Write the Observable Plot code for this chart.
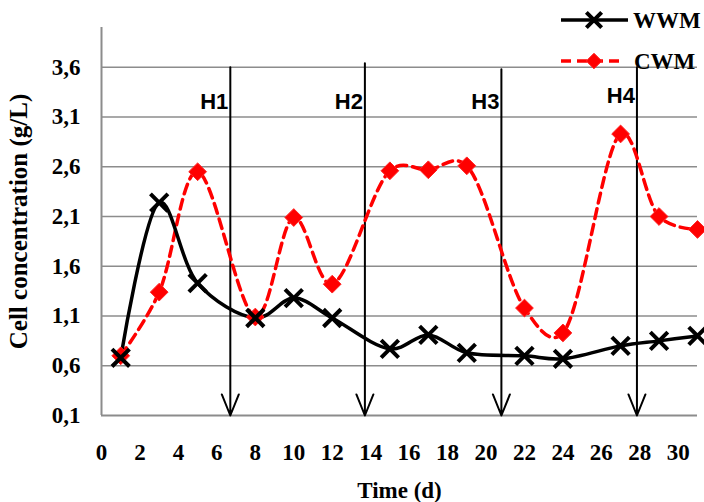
<!DOCTYPE html>
<html>
<head>
<meta charset="utf-8">
<script src="https://cdn.jsdelivr.net/npm/d3@7"></script>
<script src="https://cdn.jsdelivr.net/npm/@observablehq/plot@0.6"></script>
<style>
  html, body { margin: 0; padding: 0; background: #fff; }
</style>
</head>
<body>
<div id="chart"></div>
<script>
// ---- data ----
const days = [1, 3, 5, 8, 10, 12, 15, 17, 19, 22, 24, 27, 29, 31];
const wwm  = [0.68, 2.24, 1.43, 1.08, 1.28, 1.08, 0.77, 0.91, 0.73, 0.70, 0.67, 0.80, 0.85, 0.90];
const cwm  = [0.70, 1.34, 2.55, 1.09, 2.09, 1.42, 2.56, 2.57, 2.61, 1.18, 0.93, 2.93, 2.10, 1.97];
const seriesNames = ["WWM", "CWM"];
const harvestDays = [6.7, 13.7, 20.8, 27.85];
const harvestLabels = ["H1", "H2", "H3", "H4"];
const harvestTop = [3.6, 3.64, 3.58, 3.6];
const harvestLabelY = [3.25, 3.25, 3.25, 3.31];
const xTicks = [0, 2, 4, 6, 8, 10, 12, 14, 16, 18, 20, 22, 24, 26, 28, 30];
const yTicks = [0.1, 0.6, 1.1, 1.6, 2.1, 2.6, 3.1, 3.6];
const xTitle = "Time (d)";
const yTitle = "Cell concentration (g/L)";

const wwmData = days.map((d, i) => ({day: d, value: wwm[i]}));
const cwmData = days.map((d, i) => ({day: d, value: cwm[i]}));
const harvests = harvestDays.map((d, i) => ({day: d, label: harvestLabels[i], top: harvestTop[i], ly: harvestLabelY[i]}));
const fmt = v => v.toFixed(1).replace(".", ",");

const serif = "'Liberation Serif', 'Times New Roman', serif";
const sans = "'Liberation Sans', Arial, sans-serif";

const chart = Plot.plot({
  width: 704,
  height: 502,
  marginLeft: 101,
  marginRight: 7,
  marginTop: 27,
  marginBottom: 87,
  style: {fontFamily: serif, fontSize: "23px", fontWeight: "bold", background: "#fff", color: "#000"},
  x: {domain: [0, 31]},
  y: {domain: [0.1, 4.0]},
  marks: [
    Plot.ruleY(yTicks.filter(v => v > 0.1), {stroke: "#8c8c8c", strokeWidth: 1.6}),
    Plot.ruleY([0.1], {stroke: "#8c8c8c", strokeWidth: 2}),
    Plot.ruleX([0], {stroke: "#8c8c8c", strokeWidth: 2}),
    Plot.axisX({ticks: xTicks, tickSize: 0, tickPadding: 28, label: null, tickFormat: d => String(d), fontSize: 23}),
    Plot.axisY({ticks: yTicks, tickSize: 0, tickPadding: 21, label: null, tickFormat: fmt, fontSize: 23}),
    Plot.text([xTitle], {frameAnchor: "bottom", dy: 75, lineAnchor: "middle", textAnchor: "middle", fontSize: 23}),
    Plot.text([yTitle], {frameAnchor: "left", dx: -83, rotate: -90, lineAnchor: "middle", textAnchor: "middle", fontSize: 25}),
    Plot.arrow(harvests, {x1: "day", y1: "top", x2: "day", y2: () => 0.1, stroke: "#000", strokeWidth: 2, headLength: 17, headAngle: 44}),
    Plot.text(harvests, {x: "day", y: "ly", text: "label", textAnchor: "end", dx: -2, fontFamily: sans, fontSize: 22, fontWeight: "bold", fill: "#000"}),
    Plot.line(cwmData, {x: "day", y: "value", stroke: "#ff0000", strokeWidth: 3.5, strokeDasharray: "10,6", curve: "catmull-rom", tension: 0.25}),
    Plot.line(wwmData, {x: "day", y: "value", stroke: "#000", strokeWidth: 3.5, curve: "catmull-rom", tension: 0.25}),
    Plot.dot(cwmData, {x: "day", y: "value", symbol: "diamond2", r: 8, fill: "#ff0000", stroke: "#f22", strokeWidth: 1}),
    Plot.dot(wwmData, {x: "day", y: "value", symbol: "times", r: 8, stroke: "#000", strokeWidth: 4})
  ]
});

// ---- legend ----
const legend = [
  {name: seriesNames[0], color: "#000", dash: null, symbol: d3.symbolTimes, fill: "none", stroke: "#000", y: 20, x0: 561, x1: 628, tx: 633},
  {name: seriesNames[1], color: "#ff0000", dash: "10,6", symbol: d3.symbolDiamond2, fill: "#ff0000", stroke: "#f22", y: 61, x0: 561, x1: 624, tx: 634}
];
const g = d3.select(chart).append("g");
legend.forEach(e => {
  g.append("line").attr("x1", e.x0).attr("x2", e.x1).attr("y1", e.y).attr("y2", e.y)
    .attr("stroke", e.color).attr("stroke-width", 3.5).attr("stroke-dasharray", e.dash);
  g.append("path").attr("d", d3.symbol(e.symbol, Math.PI * 49)())
    .attr("transform", `translate(594,${e.y})`)
    .attr("fill", e.fill).attr("stroke", e.stroke).attr("stroke-width", e.fill === "none" ? 4 : 1);
  g.append("text").attr("x", e.tx).attr("y", e.y).attr("dy", "0.35em")
    .attr("text-anchor", "start")
    .attr("font-family", serif).attr("font-weight", "bold").attr("font-size", 23)
    .attr("fill", "#000").text(e.name);
});

document.getElementById("chart").appendChild(chart);
</script>
</body>
</html>
